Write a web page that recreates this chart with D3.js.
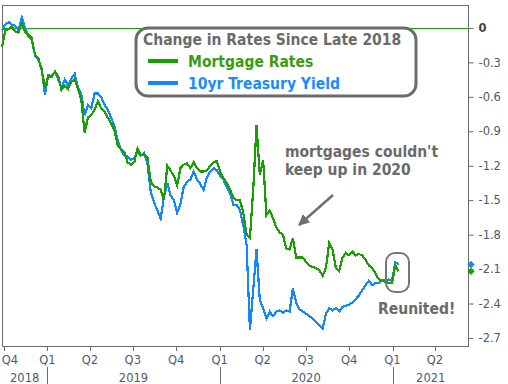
<!DOCTYPE html>
<html><head><meta charset="utf-8">
<script src="https://cdn.jsdelivr.net/npm/d3@7"></script>
<style>body{margin:0;background:#fff} svg{display:block}</style>
</head><body><svg id="c" width="508" height="384"></svg>
<script>
// ---- data (weekly samples, change in rate since late 2018) ----
const startDate = "2018-09-27";
const mortgage = [
-0.17,-0.02,-0.01,0.01,-0.03,-0.04,0.04,-0.04,-0.06,-0.09,
-0.24,-0.26,-0.37,-0.52,-0.42,-0.43,-0.38,-0.42,-0.54,-0.50,
-0.53,-0.47,-0.45,-0.53,-0.63,-0.91,-0.78,-0.76,-0.71,-0.64,
-0.70,-0.73,-0.78,-0.83,-0.89,-1.02,-1.06,-1.08,-1.17,-1.19,
-1.17,-1.05,-1.11,-1.10,-1.13,-1.34,-1.38,-1.39,-1.41,-1.50,
-1.20,-1.24,-1.29,-1.37,-1.22,-1.19,-1.18,-1.22,-1.17,-1.22,
-1.25,-1.25,-1.24,-1.20,-1.17,-1.16,-1.25,-1.31,-1.35,-1.41,
-1.48,-1.50,-1.50,-1.61,-1.80,-1.83,-1.41,-0.85,-1.28,-1.15,
-1.63,-1.59,-1.66,-1.74,-1.78,-1.80,-1.92,-1.93,-1.83,-2.00,
-2.00,-2.00,-2.04,-2.07,-2.08,-2.09,-2.11,-2.16,-2.09,-1.87,
-1.93,-2.09,-2.12,-2.00,-1.96,-1.98,-1.95,-1.98,-1.97,-1.98,
-2.02,-2.07,-2.09,-2.14,-2.19,-2.20,-2.21,-2.22,-2.22,-2.07,
-2.12];
const treasury = [
-0.02,0.03,0.05,0.03,0.02,-0.02,0.09,0.00,-0.07,-0.10,
-0.24,-0.28,-0.35,-0.58,-0.41,-0.42,-0.38,-0.45,-0.52,-0.45,
-0.50,-0.44,-0.40,-0.52,-0.58,-0.76,-0.67,-0.70,-0.57,-0.57,
-0.60,-0.67,-0.71,-0.78,-0.85,-0.98,-1.06,-1.11,-1.12,-1.15,
-1.13,-1.08,-1.11,-1.09,-1.18,-1.43,-1.52,-1.59,-1.66,-1.47,
-1.35,-1.46,-1.50,-1.61,-1.53,-1.38,-1.34,-1.32,-1.25,-1.32,
-1.36,-1.41,-1.30,-1.25,-1.22,-1.24,-1.29,-1.32,-1.39,-1.44,
-1.54,-1.54,-1.59,-1.72,-1.89,-2.63,-2.28,-1.93,-2.37,-2.44,
-2.53,-2.47,-2.51,-2.47,-2.46,-2.48,-2.46,-2.47,-2.27,-2.39,
-2.45,-2.47,-2.49,-2.51,-2.53,-2.56,-2.59,-2.62,-2.49,-2.44,
-2.46,-2.44,-2.47,-2.43,-2.42,-2.41,-2.39,-2.36,-2.33,-2.28,
-2.24,-2.20,-2.24,-2.22,-2.22,-2.20,-2.20,-2.19,-2.20,-2.04,
-2.06];
const yTicks = [0,-0.3,-0.6,-0.9,-1.2,-1.5,-1.8,-2.1,-2.4,-2.7];
const quarterStarts = ["2018-10-01","2019-01-01","2019-04-01","2019-07-01","2019-10-01",
  "2020-01-01","2020-04-01","2020-07-01","2020-10-01","2021-01-01","2021-04-01"];
const quarterLabels = ["Q4","Q1","Q2","Q3","Q4","Q1","Q2","Q3","Q4","Q1","Q2"];
const yearLabels = ["2018","2019","2020","2021"];
const legendTitle = "Change in Rates Since Late 2018";
const seriesNames = ["Mortgage Rates","10yr Treasury Yield"];

// ---- layout ----
const W = 508, H = 384;
const L = 2, R = 469, T = 5, B = 346;
const GREEN = "#17a000", BLUE = "#1487fa", GRAY = "#6b6b6b", TICK = "#4d5a74";
const parse = d3.timeParse("%Y-%m-%d");
const t0 = parse(startDate);
const dates = mortgage.map((_, i) => d3.timeDay.offset(t0, 7 * i));

const svg = d3.select("#c");
const x = d3.scaleTime().domain([parse("2018-09-27"), parse("2021-06-12")]).range([L, R]);
const y = d3.scaleLinear().domain([-2.77, 0.2]).range([B, T]);

// zero line
svg.append("line").attr("x1", L).attr("x2", R).attr("y1", Math.round(y(0)) + 0.5).attr("y2", Math.round(y(0)) + 0.5)
  .attr("stroke", GREEN).attr("stroke-width", 1);

// frame
svg.append("rect").attr("x", L + 0.5).attr("y", T + 0.5).attr("width", R - L - 1).attr("height", B - T)
  .attr("fill", "none").attr("stroke", GRAY).attr("stroke-width", 1);

// right axis
const yAxis = d3.axisRight(y).tickValues(yTicks).tickSize(5).tickPadding(5)
  .tickFormat(d => d === 0 ? "0" : d3.format(".1f")(d).replace("−", "-"));
const ga = svg.append("g").attr("transform", `translate(${R - 0.5},0)`).call(yAxis);
ga.select(".domain").remove();
ga.selectAll(".tick line").attr("stroke", GRAY);
ga.selectAll(".tick text").style("font-family", "'DejaVu Sans', Verdana, sans-serif")
  .style("font-size", "11.5px").style("font-weight", d => d === 0 ? "bold" : "normal")
  .attr("fill", d => d === 0 ? "#3c4250" : TICK);

// bottom quarter axis
const qd = quarterStarts.map(parse);
const gx = svg.append("g");
gx.selectAll("line.q").data(qd).join("line").attr("class", "q")
  .attr("x1", d => Math.round(x(d)) + 0.5).attr("x2", d => Math.round(x(d)) + 0.5)
  .attr("y1", B + 1).attr("y2", B + 5).attr("stroke", GRAY);
gx.selectAll("text.q").data(qd).join("text").attr("class", "q")
  .attr("x", d => Math.max(x(d), 10)).attr("y", 364).attr("text-anchor", "middle")
  .style("font-family", "'DejaVu Sans', Verdana, sans-serif").style("font-size", "11.5px")
  .attr("fill", TICK).text((d, i) => quarterLabels[i]);

// year row
const yearStarts = yearLabels.map(s => parse(s + "-01-01"));
const dom = x.domain();
yearLabels.forEach((yl, i) => {
  const a = i === 0 ? dom[0] : yearStarts[i];
  const b = i === yearLabels.length - 1 ? dom[1] : yearStarts[i + 1];
  gx.append("text").attr("x", (x(a) + x(b)) / 2).attr("y", 382).attr("text-anchor", "middle")
    .style("font-family", "'DejaVu Sans', Verdana, sans-serif").style("font-size", "11.5px")
    .attr("fill", TICK).text(yl);
  if (i > 0) {
    const xx = Math.round(x(yearStarts[i])) + 0.5;
    gx.append("line").attr("x1", xx).attr("x2", xx).attr("y1", 367).attr("y2", H).attr("stroke", GRAY);
  }
});

// lines
const line = d3.line().x((d, i) => x(dates[i])).y(d => y(d));
svg.append("path").datum(treasury).attr("d", line).attr("fill", "none")
  .attr("stroke", BLUE).attr("stroke-width", 2.2).attr("stroke-linejoin", "miter")
  .attr("shape-rendering", "crispEdges");
svg.append("path").datum(mortgage).attr("d", line).attr("fill", "none")
  .attr("stroke", GREEN).attr("stroke-width", 2.2).attr("stroke-linejoin", "miter")
  .attr("shape-rendering", "crispEdges");

// end markers on axis
const last = mortgage.length - 1;
[[treasury[last], BLUE], [mortgage[last], GREEN]].forEach(([v, c]) => {
  svg.append("path").attr("d", d3.symbol(d3.symbolDiamond2, 34)())
    .attr("transform", `translate(${R + 2},${y(v)})`).attr("fill", c);
});

// legend
const FONT = "'DejaVu Sans Condensed', 'DejaVu Sans', Verdana, sans-serif";
const lg = svg.append("g");
lg.append("rect").attr("x", 136).attr("y", 28).attr("width", 280).attr("height", 68).attr("rx", 12)
  .attr("fill", "#fff").attr("stroke", GRAY).attr("stroke-width", 3);
lg.append("text").attr("x", 143).attr("y", 45).text(legendTitle)
  .style("font-family", FONT).style("font-weight", "bold").style("font-size", "15.5px")
  .style("font-stretch", "condensed").attr("fill", "#6a6a6a");
[[seriesNames[0], GREEN, "#3a9c10", 61, 66.5], [seriesNames[1], BLUE, "#1a8cff", 83, 88.5]].forEach(([n, c, tc, ly, ty]) => {
  lg.append("line").attr("x1", 148).attr("x2", 178).attr("y1", ly).attr("y2", ly)
    .attr("stroke", c).attr("stroke-width", 4);
  lg.append("text").attr("x", 188).attr("y", ty).text(n)
    .style("font-family", FONT).style("font-weight", "bold").style("font-size", "15.5px")
    .style("font-stretch", "condensed").attr("fill", tc);
});

// annotations
const ann = svg.append("g").style("font-family", FONT).style("font-weight", "bold")
  .style("font-size", "15.5px").style("font-stretch", "condensed").attr("fill", "#6a6a6a");
ann.append("text").attr("x", 285).attr("y", 157).text("mortgages couldn't");
ann.append("text").attr("x", 285).attr("y", 175).text("keep up in 2020");
ann.append("text").attr("x", 378).attr("y", 314).text("Reunited!");
svg.append("defs").append("marker").attr("id", "ah").attr("viewBox", "0 0 10 10")
  .attr("refX", 9).attr("refY", 5).attr("markerWidth", 4.5).attr("markerHeight", 4.5)
  .attr("orient", "auto").append("path").attr("d", "M0,0L10,5L0,10z").attr("fill", "#707070");
svg.append("line").attr("x1", 333).attr("y1", 195).attr("x2", 299).attr("y2", 225)
  .attr("stroke", "#707070").attr("stroke-width", 2.5).attr("marker-end", "url(#ah)");
svg.append("rect").attr("x", 386).attr("y", 253).attr("width", 23).attr("height", 39).attr("rx", 9)
  .attr("fill", "none").attr("stroke", "#777").attr("stroke-width", 2);
</script></body></html>
